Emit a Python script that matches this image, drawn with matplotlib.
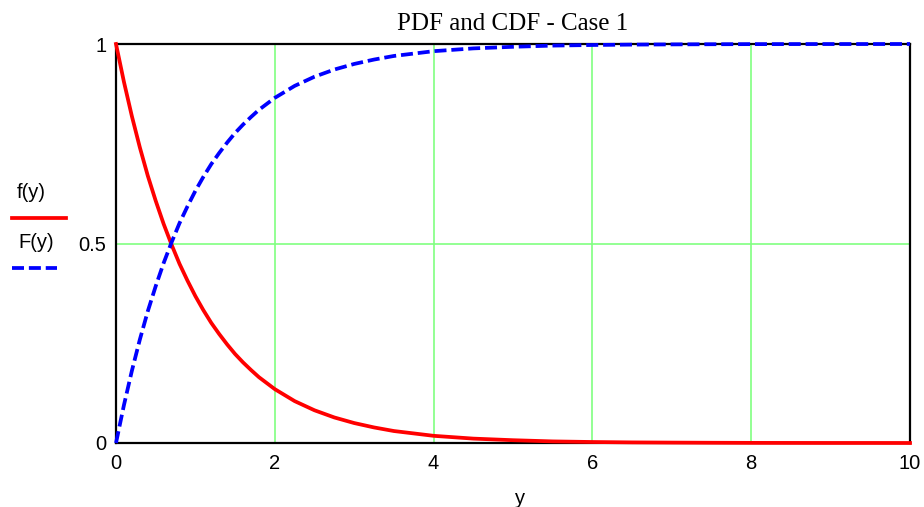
import numpy as np
from matplotlib import pyplot as plt

# values
y_values = [0.0, 0.1, 0.2, 0.3, 0.4, 0.5, 0.6, 0.7, 0.8, 0.9, 1.0,
            1.1, 1.2, 1.3, 1.4, 1.5, 1.6, 1.7, 1.8, 1.9, 2.0,
            2.25, 2.5, 2.75, 3.0, 3.25, 3.5, 3.75, 4.0, 4.5, 5.0, 5.5,
            6.0, 6.5, 7.0, 7.5, 8.0, 8.5, 9.0, 9.5, 10.0]
pdf_values = [1.000, 0.905, 0.819, 0.741, 0.670, 0.607, 0.549, 0.497, 0.449,
              0.407, 0.368, 0.333, 0.301, 0.273, 0.247, 0.223, 0.202, 0.183,
              0.165, 0.150, 0.135, 0.105, 0.082, 0.064, 0.050, 0.039, 0.030,
              0.024, 0.018, 0.011, 0.007, 0.004, 0.0025, 0.0015, 0.001,
              0.0006, 0.0003, 0.0002, 0.0001, 0.0001, 0.0]
cdf_values = [0.000, 0.095, 0.181, 0.259, 0.330, 0.393, 0.451, 0.503, 0.551,
              0.593, 0.632, 0.667, 0.699, 0.727, 0.753, 0.777, 0.798, 0.817,
              0.835, 0.850, 0.865, 0.895, 0.918, 0.936, 0.950, 0.961, 0.970,
              0.976, 0.982, 0.989, 0.993, 0.996, 0.9975, 0.9985, 0.999,
              0.9994, 0.9997, 0.9998, 0.9999, 0.9999, 1.0]
x_ticks = [0, 2, 4, 6, 8, 10]
y_ticks = [0, 0.5, 1]
y_tick_labels = ["0", "0.5", "1"]

plt.rcParams["font.family"] = ["Liberation Sans", "DejaVu Sans"]

fig = plt.figure(figsize=(9.24, 5.07), dpi=100)
ax = fig.add_axes([116 / 924, 1 - 443 / 507, 794 / 924, 399 / 507])

lw = 2.7
dash = (3.2, 1.3)
ax.plot(y_values, pdf_values, color="red", lw=lw, zorder=5, clip_on=False)
ax.plot(y_values, cdf_values, color="blue", lw=lw, zorder=5, clip_on=False,
        dashes=dash)

ax.set_xlim(0, 10)
ax.set_ylim(0, 1)
ax.set_xticks(x_ticks)
ax.set_yticks(y_ticks)
ax.set_yticklabels(y_tick_labels)
ax.tick_params(length=0, labelsize=14.5)
ax.tick_params(axis="x", pad=8)
ax.tick_params(axis="y", pad=7)
ax.grid(True, color="#80ff80", lw=1.2)
ax.set_axisbelow(True)
for spine in ax.spines.values():
    spine.set_linewidth(1.6)
    spine.set_zorder(3)

ax.set_xlabel("y", fontsize=14.5)
ax.xaxis.set_label_coords((520 - 116) / 794, -0.115)
ax.set_title("PDF and CDF - Case 1", family="Liberation Serif",
             fontsize=18, pad=10)

# legend at the left, Mathcad style
fig.text(17 / 924, 1 - 193 / 507, "f(y)", fontsize=14.5, va="center")
fig.add_artist(plt.Line2D([12 / 924, 66 / 924], [1 - 218 / 507] * 2,
                          color="red", lw=lw))
fig.text(18 / 924, 1 - 243 / 507, "F(y)", fontsize=14.5, va="center")
fig.add_artist(plt.Line2D([12 / 924, 57 / 924], [1 - 268 / 507] * 2,
                          color="blue", lw=lw, dashes=dash))

fig.savefig("out.png", dpi=100)
